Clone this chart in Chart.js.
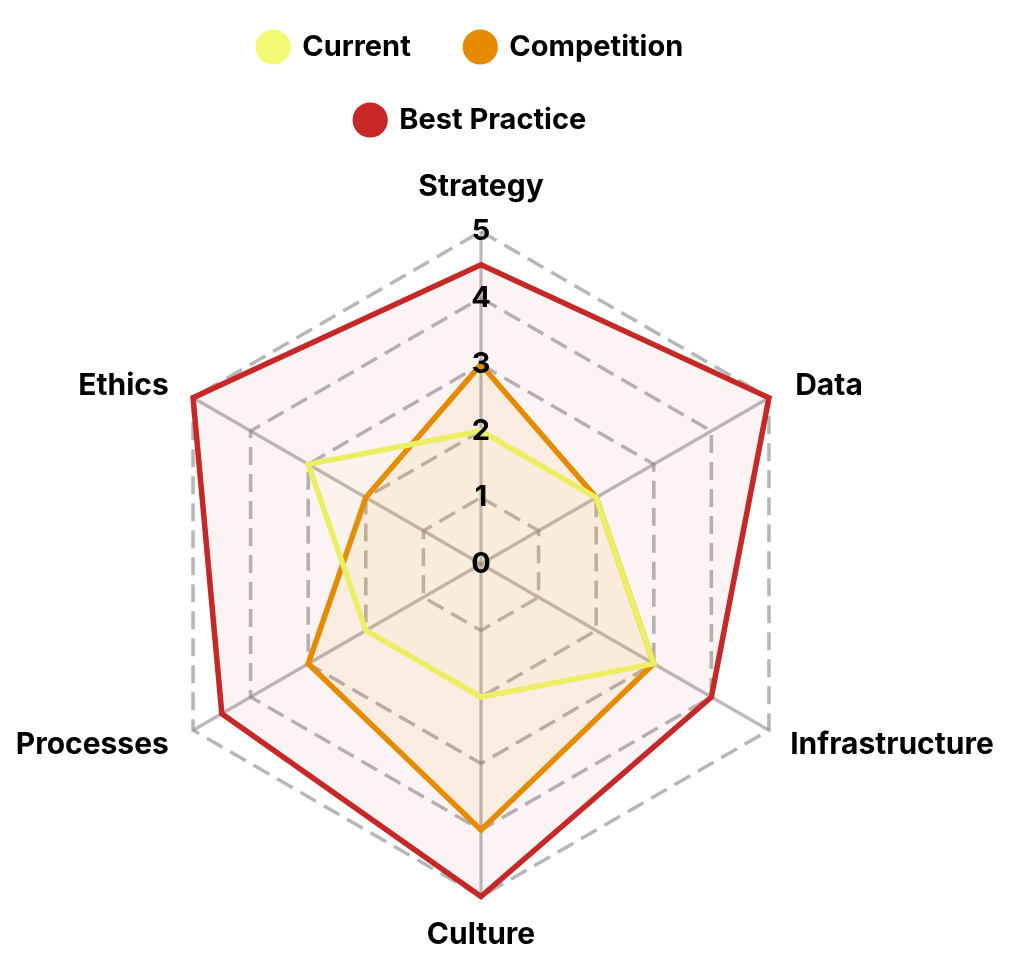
<!DOCTYPE html>
<html>
<head>
<meta charset="utf-8">
<script src="https://cdn.jsdelivr.net/npm/chart.js@4/dist/chart.umd.min.js"></script>
<style>
  html, body { margin: 0; padding: 0; background: #ffffff; }
  #wrap { width: 1010px; height: 963px; }
</style>
</head>
<body>
<div id="wrap"><canvas id="c"></canvas></div>
<script>
const categories = ['Strategy', 'Data', 'Infrastructure', 'Culture', 'Processes', 'Ethics'];
const seriesNames = ['Current', 'Competition', 'Best Practice'];
const currentValues = [2, 2, 3, 2, 2, 3];
const competitionValues = [3, 2, 3, 4, 3, 2];
const bestPracticeValues = [4.5, 5, 4, 5, 4.5, 5];
const tickValues = [0, 1, 2, 3, 4, 5];

const FAMILY = 'Inter, "Noto Sans", sans-serif';
Chart.defaults.font.family = FAMILY;

// Lays the legend out in the reference's two centred rows
const legendRows = {
  id: 'legendRows',
  beforeLayout(chart, args, opts) {
    const lg = chart.legend;
    if (!lg || lg._rowsPatched) return;
    lg._rowsPatched = true;
    const origDraw = lg.draw.bind(lg);
    lg.draw = function () {
      const items = this.legendItems;
      if (!items || !items.length) return origDraw();
      const save = { left: this.left, right: this.right, width: this.width, top: this.top, bottom: this.bottom, height: this.height, items: items, lw: this.lineWidths };
      const lo = this.options.labels;
      const fs = lo.font.size;
      const pad = lo.padding;
      const bw = fs;
      const ctx = this.ctx;
      opts.rows.forEach((row, r) => {
        ctx.save();
        ctx.font = 'bold ' + fs + 'px ' + FAMILY;
        let w = 0;
        row.forEach(i => { w += bw + fs / 2 + ctx.measureText(items[i].text).width + pad; });
        ctx.restore();
        this.legendItems = row.map(i => items[i]);
        this.lineWidths = [w];
        this.left = opts.centerX - 1500;
        this.right = opts.centerX + 1500;
        this.width = 3000;
        this.top = opts.rowY[r] - pad - fs / 2;
        this.bottom = this.top + 2 * (fs + pad);
        this.height = this.bottom - this.top;
        origDraw();
      });
      this.left = save.left; this.right = save.right; this.width = save.width;
      this.top = save.top; this.bottom = save.bottom; this.height = save.height;
      this.legendItems = save.items; this.lineWidths = save.lw;
    };
  }
};

new Chart(document.getElementById('c'), {
  type: 'radar',
  data: {
    labels: categories,
    datasets: [
      {
        label: seriesNames[0],
        data: currentValues,
        borderColor: '#ebef64',
        backgroundColor: 'rgba(240,245,100,0.05)',
        pointBackgroundColor: '#f1fa72',
        pointBorderColor: '#f1fa72',
        borderWidth: 5.5,
        pointRadius: 0,
        pointHoverRadius: 0,
        fill: true
      },
      {
        label: seriesNames[1],
        data: competitionValues,
        borderColor: '#e68a00',
        backgroundColor: 'rgba(230,138,0,0.08)',
        pointBackgroundColor: '#e68a00',
        pointBorderColor: '#e68a00',
        borderWidth: 5.5,
        pointRadius: 0,
        pointHoverRadius: 0,
        fill: true
      },
      {
        label: seriesNames[2],
        data: bestPracticeValues,
        borderColor: '#c62828',
        backgroundColor: 'rgba(198,40,40,0.05)',
        pointBackgroundColor: '#c62828',
        pointBorderColor: '#c62828',
        borderWidth: 5.5,
        pointRadius: 0,
        pointHoverRadius: 0,
        fill: true
      }
    ]
  },
  options: {
    responsive: true,
    maintainAspectRatio: false,
    animation: false,
    elements: { line: { tension: 0, borderJoinStyle: 'miter' } },
    layout: { padding: { top: 72, left: 0, right: 0, bottom: 0 } },
    scales: {
      r: {
        min: 0,
        max: 5,
        beforeFit(scale) {
          // let the right-hand point label reach a little further, as in the reference
          scale._savedRight = scale.right;
          scale.right += 10;
        },
        afterFit(scale) {
          if (scale._savedRight !== undefined) scale.right = scale._savedRight;
          // side labels are vertically centred on their spoke in the reference
          const items = scale._pointLabelItems || [];
          const lh = 36;
          const dx = [0, 5, 0, 0, -3, -3];
          const dy = [-2, lh / 2, -lh / 2 + 2, -4, -lh / 2 + 2, lh / 2];
          items.forEach((it, i) => {
            it.x += dx[i]; it.left += dx[i]; it.right += dx[i];
            it.y += dy[i]; it.top += dy[i]; it.bottom += dy[i];
          });
        },
        afterBuildTicks(scale) {
          // first entry is a placeholder: the radial scale never labels index 0
          scale.ticks = [{ value: tickValues[0] }].concat(tickValues.map(v => ({ value: v })));
        },
        ticks: {
          z: 1,
          color: '#000000',
          showLabelBackdrop: false,
          font: { size: 29, weight: 'bold' }
        },
        grid: {
          circular: false,
          color: 'rgba(135,135,135,0.6)',
          lineWidth: 3.6
        },
        border: {
          dash: [18, 9]
        },
        angleLines: {
          color: 'rgba(135,130,130,0.55)',
          lineWidth: 3.2
        },
        pointLabels: {
          color: '#000000',
          padding: 8,
          font: { size: 30, weight: 'bold' }
        }
      }
    },
    plugins: {
      legendRows: { rows: [[0, 1], [2]], rowY: [47, 120], centerX: 471 },
      tooltip: { enabled: false },
      legend: {
        position: 'top',
        labels: {
          usePointStyle: true,
          pointStyle: 'circle',
          boxHeight: 21,
          padding: 55,
          color: '#000000',
          font: { size: 29, weight: 'bold' }
        }
      }
    }
  },
  plugins: [legendRows]
});
</script>
</body>
</html>
